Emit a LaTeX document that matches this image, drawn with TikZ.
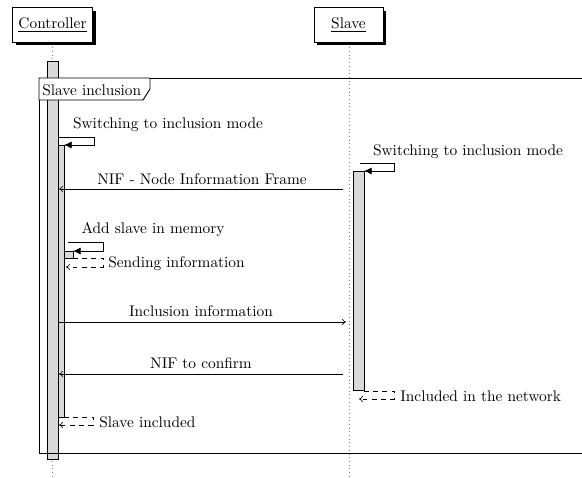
\documentclass[tikz,border=0pt]{standalone}
\usetikzlibrary{arrows.meta,shadows,positioning,calc}

\tikzset{
  lifebox/.style={draw,fill=white,minimum height=22.5pt,inner sep=3pt,
    general shadow={fill=black,shadow xshift=2pt,shadow yshift=-2pt}},
  lifeline/.style={gray,dotted},
  actbar/.style={draw,fill=gray!30},
  msg/.style={-{To[length=2.5pt,width=4pt]}},
  selfcall/.style={-{Latex[length=5pt,width=4.5pt]}},
  retmsg/.style={dashed,-{To[length=2.5pt,width=4pt]}},
}

\begin{document}
\begin{tikzpicture}[x=0.65pt,y=-0.65pt]
	\useasboundingbox (0,0) rectangle (582,477);

	% lifelines
	\coordinate (ctrlend) at (52.5,477);
	\coordinate (slaveend) at (349,477);
	\draw[lifeline] (52.5,40) -- (ctrlend);
	\draw[lifeline] (349,40) -- (slaveend);

	\begin{scope}[every node/.style={lifebox}]
		\node[minimum width=52pt] (ctrl) at (52.5,25) {\underline{Controller}};
		\node[minimum width=45pt] (slave) at (348.5,25) {\underline{Slave}};
	\end{scope}

	% activation bars
	\draw[actbar] (47,61) rectangle (58.5,459);
	\draw[actbar] (58.5,145) rectangle (64,417);
	\draw[actbar] (64,251) rectangle (73,258);
	\draw[actbar] (353,171) rectangle (364,390);

	% frame
	\draw[semithick] (582,78) -| (39,453) -- (582,453);
	\draw[semithick,fill=white] (39,78) -- (39,100) -- (143,100) -- (150,89) -- (150,78) -- cycle;
	\node[anchor=base west,inner sep=0pt] (frm) at (42,95) {Slave inclusion};

	% self calls
	\coordinate (sw1) at (58.5,137);
	\coordinate (sw1e) at (64,145);
	\draw[selfcall] (sw1) -- ++(35.5,0) |- (sw1e);
	\node[anchor=base] (sw1t) at (168,128) {Switching to inclusion mode};

	\coordinate (sw2) at (360,163);
	\coordinate (sw2e) at (364,171);
	\draw[selfcall] (sw2) -- ++(34,0) |- (sw2e);
	\node[anchor=base] (sw2t) at (468,155) {Switching to inclusion mode};

	\coordinate (add) at (68,242);
	\coordinate (adde) at (73,251);
	\draw[selfcall] (add) -- ++(35,0) |- (adde);
	\node[anchor=base] (addt) at (153,233) {Add slave in memory};

	% messages
	\coordinate (nif1s) at (343,189);
	\coordinate (nif1e) at (59,189);
	\draw[msg] (nif1s) -- (nif1e);
	\node[anchor=base] (nif1t) at (202,184) {NIF - Node Information Frame};

	\coordinate (incs) at (59,322);
	\coordinate (ince) at (346,322);
	\draw[msg] (incs) -- (ince);
	\node[anchor=base] (inct) at (201,316) {Inclusion information};

	\coordinate (nif2s) at (343,374);
	\coordinate (nif2e) at (59,374);
	\draw[msg] (nif2s) -- (nif2e);
	\node[anchor=base] (nif2t) at (201,368) {NIF to confirm};

	% returns
	\coordinate (snd) at (73,258);
	\coordinate (snde) at (66,267);
	\draw[retmsg] (snd) -- ++(30,0) |- (snde);
	\node[anchor=base west,inner sep=0pt] (sndt) at (108,267) {Sending information};

	\coordinate (net) at (364,391);
	\coordinate (nete) at (359,399);
	\draw[retmsg] (net) -- ++(30,0) |- (nete);
	\node[anchor=base west,inner sep=0pt] (nett) at (400,401) {Included in the network};

	\coordinate (inc) at (64,417);
	\coordinate (ince2) at (59,425);
	\draw[retmsg] (inc) -- ++(29,0) |- (ince2);
	\node[anchor=base west,inner sep=0pt] (inct2) at (99,427) {Slave included};
\end{tikzpicture}
\end{document}
